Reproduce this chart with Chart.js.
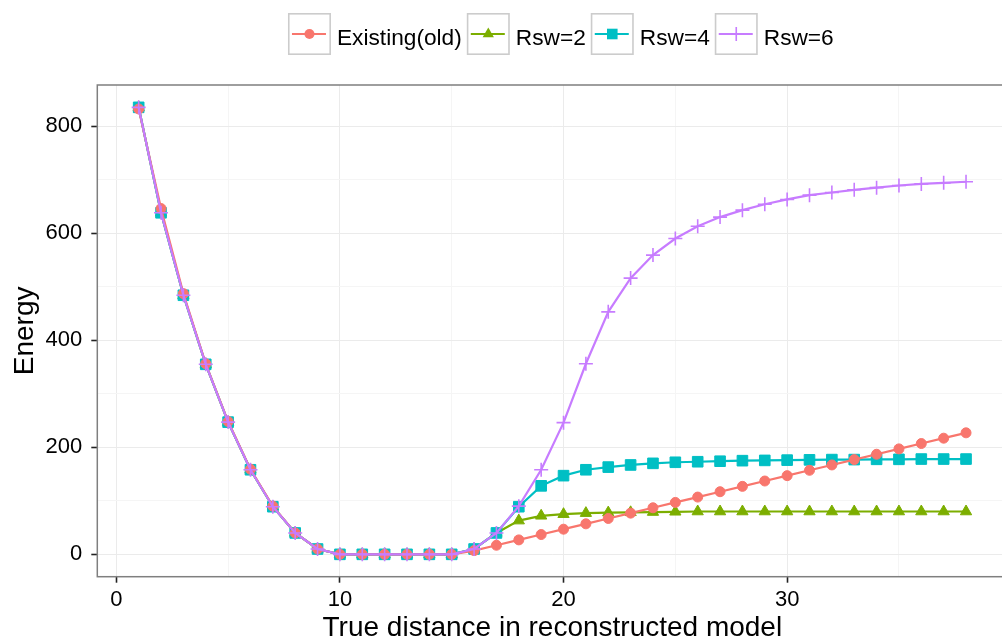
<!DOCTYPE html>
<html>
<head>
<meta charset="utf-8">
<script src="https://cdn.jsdelivr.net/npm/chart.js@4.4.1/dist/chart.umd.min.js"></script>
<style>
  html, body { margin: 0; padding: 0; background: #fff; overflow: hidden; }
  #wrap { width: 1016px; height: 641px; position: relative; }
</style>
</head>
<body>
<div id="wrap"><canvas id="energy-chart"></canvas></div>
<script>
// --data
var distance = [1, 2, 3, 4, 5, 6, 7, 8, 9, 10, 11, 12, 13, 14, 15, 16, 17, 18, 19, 20,
  21, 22, 23, 24, 25, 26, 27, 28, 29, 30, 31, 32, 33, 34, 35, 36, 37, 38];
var existingOld = [832, 646, 487, 356, 248, 159, 90, 40, 10, 0, 0, 0, 0, 0, 0, 7, 17, 27, 37, 47,
  57, 67, 77, 87, 97, 107, 117, 127, 137, 147, 157, 167, 177, 187, 197, 207, 217, 227];
var rsw2 = [835, 638, 484, 355, 247, 158, 89, 40, 10, 0, 0, 0, 0, 0, 0, 10, 40, 63, 72, 75,
  77, 78, 78.5, 79, 79.5, 80, 80, 80, 80, 80, 80, 80, 80, 80, 80, 80, 80, 80];
var rsw4 = [835, 638, 484, 355, 247, 158, 89, 40, 10, 0, 0, 0, 0, 0, 0, 10, 40, 89, 128, 147,
  158, 163, 167, 170, 172, 173, 174, 175, 175.5, 176, 176.5, 177, 177, 177.5, 177.5, 178, 178, 178];
var rsw6 = [835, 638, 484, 355, 247, 158, 89, 40, 10, 0, 0, 0, 0, 0, 0, 10, 40, 90, 158, 246,
  356, 453, 516, 559, 590, 613, 630, 643, 654, 663, 671, 676, 681, 685, 689, 692, 694, 696];
var seriesNames = ['Existing(old)', 'Rsw=2', 'Rsw=4', 'Rsw=6'];
var xTickLabels = [0, 10, 20, 30];
var xMinorTicks = [5, 15, 25, 35];
var yTickLabels = [0, 200, 400, 600, 800];
var yMinorTicks = [100, 300, 500, 700];

var FONT = '"Liberation Sans", Arial, Helvetica, sans-serif';
var colors = ['#F8766D', '#7CAE00', '#00BFC4', '#C77CFF'];
var shapes = ['circle', 'triangle', 'rect', 'cross'];
var sizes = [5, 6.5, 7.5, 7];

function toPoints(values) {
  return distance.map(function(d, i) { return {x: d, y: values[i]}; });
}

// ggplot-like expansion: 5% of the data range on each side
function expand(min, max) {
  var pad = (max - min) * 0.05;
  return [min - pad, max + pad];
}
var xRange = expand(1, 38);
var yRange = expand(0, 835);

function makeSet(i, values, order) {
  return {
    label: seriesNames[i],
    data: toPoints(values),
    borderColor: colors[i],
    backgroundColor: colors[i],
    borderWidth: 2.2,
    tension: 0,
    pointStyle: shapes[i],
    pointRadius: sizes[i],
    pointHoverRadius: sizes[i],
    pointBackgroundColor: colors[i],
    pointBorderColor: colors[i],
    pointBorderWidth: shapes[i] === 'cross' ? 1.6 : 1,
    order: order
  };
}

// small marker painter used by the legend keys
function drawMarker(ctx, style, x, y, r, color) {
  ctx.fillStyle = color;
  ctx.strokeStyle = color;
  ctx.beginPath();
  if (style === 'circle') {
    ctx.arc(x, y, r, 0, Math.PI * 2);
    ctx.fill();
  } else if (style === 'triangle') {
    for (var k = 0; k < 3; k++) {
      var a = k * 2 * Math.PI / 3;
      var px = x + Math.sin(a) * r, py = y - Math.cos(a) * r;
      if (k === 0) ctx.moveTo(px, py); else ctx.lineTo(px, py);
    }
    ctx.closePath();
    ctx.fill();
  } else if (style === 'rect') {
    var s = r * Math.SQRT1_2;
    ctx.rect(x - s, y - s, 2 * s, 2 * s);
    ctx.fill();
  } else {
    ctx.lineWidth = 1.6;
    ctx.moveTo(x - r, y); ctx.lineTo(x + r, y);
    ctx.moveTo(x, y - r); ctx.lineTo(x, y + r);
    ctx.stroke();
  }
}

// --legend on top, drawn like ggplot keys
var keyLegend = {
  id: 'keyLegend',
  afterDraw: function(chart) {
    var ctx = chart.ctx;
    var sets = chart.data.datasets;
    var box = 43, boxH = 42, gapKey = 6, gapItem = 5, top = 13;
    ctx.save();
    ctx.font = '22.7px ' + FONT;
    var widths = sets.map(function(s) { return ctx.measureText(s.label).width; });
    var total = gapItem * (sets.length - 1);
    widths.forEach(function(w) { total += box + gapKey + w; });
    var x = (chart.chartArea.left + chart.chartArea.right) / 2 + 8.5 - total / 2;
    var cy = top + boxH / 2;
    sets.forEach(function(s, i) {
      ctx.fillStyle = '#fff';
      ctx.fillRect(x, top, box, boxH);
      ctx.strokeStyle = '#cccccc';
      ctx.lineWidth = 1.6;
      ctx.strokeRect(x + 0.8, top + 0.8, box - 1.6, boxH - 1.6);
      ctx.strokeStyle = s.borderColor;
      ctx.lineWidth = 2.2;
      ctx.beginPath();
      ctx.moveTo(x + 4, cy);
      ctx.lineTo(x + box - 5, cy);
      ctx.stroke();
      drawMarker(ctx, s.pointStyle, x + box / 2, cy, s.pointRadius, s.borderColor);
      ctx.fillStyle = '#000';
      ctx.textAlign = 'left';
      ctx.textBaseline = 'alphabetic';
      ctx.fillText(s.label, x + box + gapKey, 45);
      x += box + gapKey + widths[i] + gapItem;
    });
    ctx.restore();
  }
};

// --panel border on top of the data
var panelBorder = {
  id: 'panelBorder',
  afterDatasetsDraw: function(chart) {
    var a = chart.chartArea, ctx = chart.ctx;
    ctx.save();
    ctx.strokeStyle = '#7f7f7f';
    ctx.lineWidth = 1.5;
    ctx.strokeRect(a.left, a.top, a.right - a.left, a.bottom - a.top);
    ctx.restore();
  }
};

function gridColor(major) {
  return function(c) { return major.indexOf(c.tick.value) > -1 ? '#EBEBEB' : '#F5F5F5'; };
}
function tickColor(major) {
  return function(c) { return major.indexOf(c.tick.value) > -1 ? '#222' : 'rgba(0,0,0,0)'; };
}

new Chart(document.getElementById('energy-chart'), {
  type: 'line',
  data: {
    datasets: [
      makeSet(0, existingOld, 2),
      makeSet(1, rsw2, 4),
      makeSet(2, rsw4, 3),
      makeSet(3, rsw6, 1)
    ]
  },
  options: {
    responsive: true,
    maintainAspectRatio: false,
    animation: false,
    layout: {padding: {top: 85, left: 0, right: 0, bottom: 0}},
    plugins: {legend: {display: false}, tooltip: {enabled: false}},
    scales: {
      x: {
        type: 'linear',
        min: xRange[0],
        max: xRange[1],
        afterBuildTicks: function(scale) {
          scale.ticks = xTickLabels.concat(xMinorTicks).sort(function(a, b) { return a - b; })
            .map(function(v) { return {value: v}; });
        },
        afterFit: function(scale) { scale.height = 64.3; },
        border: {display: false},
        grid: {
          color: gridColor(xTickLabels),
          lineWidth: 1,
          drawTicks: true,
          tickLength: 6,
          tickWidth: 1.6,
          tickColor: tickColor(xTickLabels)
        },
        ticks: {
          autoSkip: false,
          maxRotation: 0,
          padding: 4,
          color: '#000',
          font: {family: FONT, size: 22},
          callback: function(v) { return xTickLabels.indexOf(v) > -1 ? String(v) : ''; }
        },
        title: {
          display: true,
          text: 'True distance in reconstructed model',
          color: '#000',
          font: {family: FONT, size: 28, lineHeight: 0.9},
          padding: {top: 0, bottom: 0}
        }
      },
      y: {
        type: 'linear',
        min: yRange[0],
        max: yRange[1],
        afterBuildTicks: function(scale) {
          scale.ticks = yTickLabels.concat(yMinorTicks).sort(function(a, b) { return a - b; })
            .map(function(v) { return {value: v}; });
        },
        afterFit: function(scale) { scale.width = 97.3; },
        border: {display: false},
        grid: {
          color: gridColor(yTickLabels),
          lineWidth: 1,
          drawTicks: true,
          tickLength: 6,
          tickWidth: 1.6,
          tickColor: tickColor(yTickLabels)
        },
        ticks: {
          autoSkip: false,
          padding: 9,
          color: '#000',
          font: {family: FONT, size: 22},
          callback: function(v) { return yTickLabels.indexOf(v) > -1 ? String(v) : ''; }
        },
        title: {
          display: true,
          text: 'Energy',
          color: '#000',
          font: {family: FONT, size: 28, lineHeight: 1.2},
          padding: {top: 8, bottom: 0}
        }
      }
    }
  },
  plugins: [keyLegend, panelBorder]
});
</script>
</body>
</html>
